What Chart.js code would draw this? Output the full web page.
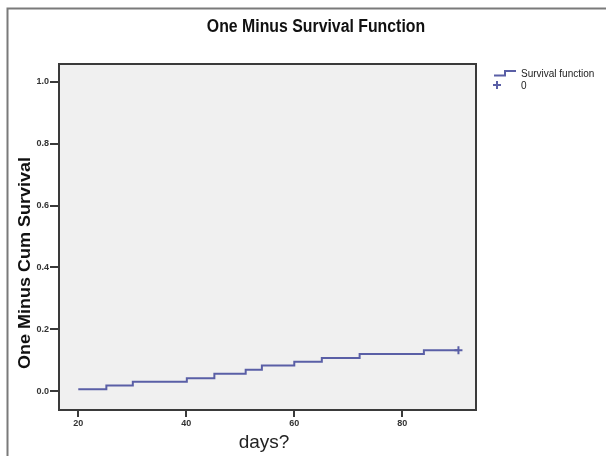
<!DOCTYPE html>
<html><head><meta charset="utf-8">
<script src="https://cdn.jsdelivr.net/npm/chart.js@4/dist/chart.umd.min.js"></script>
<style>html,body{margin:0;padding:0;background:#fff}#wrap{position:relative;width:606px;height:456px}</style>
</head><body><div id="wrap"><canvas id="c" width="606" height="456"></canvas></div>
<script>
const days = [20, 25.2, 30.1, 40.1, 45.2, 51, 54, 60, 65.1, 72.1, 84, 90.4];
const oneMinusSurvival = [0.006, 0.018, 0.030, 0.042, 0.056, 0.069, 0.083, 0.095, 0.107, 0.120, 0.132, 0.132];
const xTicks = [20, 40, 60, 80];
const yTicks = [0.0, 0.2, 0.4, 0.6, 0.8, 1.0];
const titleText = 'One Minus Survival Function';
const xTitle = 'days?';
const yTitle = 'One Minus Cum Survival';
const legendLabels = ['Survival function', '0'];

const LINE = '#5a5fa6';
const AXIS = '#3a3a3a';
const tickFont = {family: "'Liberation Sans',Arial", size: 9, weight: 'bold'};

const deco = {
  id: 'deco',
  beforeDraw(chart) {
    const {ctx, chartArea: a} = chart;
    ctx.save();
    ctx.fillStyle = '#f0f0f0';
    ctx.fillRect(a.left, a.top, a.right - a.left, a.bottom - a.top);
    ctx.strokeStyle = '#7a7a7a';
    ctx.lineWidth = 2;
    ctx.beginPath();
    ctx.moveTo(7.5, 456); ctx.lineTo(7.5, 8.5); ctx.lineTo(606, 8.5);
    ctx.stroke();
    ctx.restore();
  },
  afterDraw(chart) {
    const {ctx, chartArea: a} = chart;
    ctx.save();
    ctx.strokeStyle = AXIS;
    ctx.lineWidth = 2;
    ctx.strokeRect(a.left, a.top, a.right - a.left, a.bottom - a.top);
    ctx.textAlign = 'center'; ctx.textBaseline = 'middle';
    // title (condensed bold)
    ctx.save();
    ctx.translate(316, 27);
    ctx.scale(0.88, 1);
    ctx.fillStyle = '#111';
    ctx.font = "bold 18px 'Liberation Sans',Arial";
    ctx.fillText(titleText, 0, 0);
    ctx.restore();
    // x title
    ctx.font = "19px 'Liberation Sans',Arial";
    ctx.fillStyle = '#222';
    ctx.fillText(xTitle, 264, 443);
    // y title
    ctx.save();
    ctx.translate(25, 263);
    ctx.rotate(-Math.PI / 2);
    ctx.scale(1, 0.92);
    ctx.font = "bold 18px 'Liberation Sans',Arial";
    ctx.fillStyle = '#111';
    ctx.fillText(yTitle, 0, 0);
    ctx.restore();
    // legend
    ctx.strokeStyle = LINE; ctx.lineWidth = 2;
    ctx.beginPath();
    ctx.moveTo(494, 75.5); ctx.lineTo(505, 75.5); ctx.lineTo(505, 71); ctx.lineTo(516, 71);
    ctx.stroke();
    ctx.beginPath();
    ctx.moveTo(493, 85); ctx.lineTo(501, 85);
    ctx.moveTo(497, 81); ctx.lineTo(497, 89);
    ctx.stroke();
    ctx.fillStyle = '#222';
    ctx.font = "10px 'Liberation Sans',Arial";
    ctx.textAlign = 'left';
    ctx.fillText(legendLabels[0], 521, 74);
    ctx.fillText(legendLabels[1], 521, 86);
    ctx.restore();
  }
};

const last = days.length - 1;
new Chart(document.getElementById('c'), {
  type: 'line',
  data: {
    datasets: [{
      data: days.map((d, i) => ({x: d, y: oneMinusSurvival[i]})),
      borderColor: LINE,
      borderWidth: 2,
      stepped: 'before',
      pointStyle: 'cross',
      pointRadius: ctx => ctx.dataIndex === last ? 4 : 0,
      pointBorderColor: LINE,
      pointBorderWidth: 2,
      fill: false
    }]
  },
  options: {
    responsive: false,
    animation: false,
    events: [],
    layout: {padding: {left: 0, top: 64, right: 130, bottom: 0}},
    plugins: {legend: {display: false}, title: {display: false}, tooltip: {enabled: false}},
    scales: {
      x: {
        type: 'linear', min: 16.43, max: 93.65,
        afterBuildTicks: s => { s.ticks = xTicks.map(v => ({value: v})); },
        afterFit: s => { s.height = 46; },
        grid: {display: true, drawOnChartArea: false, drawTicks: true, tickLength: 7, color: AXIS, lineWidth: 2},
        border: {display: false},
        ticks: {font: tickFont, color: '#333', padding: 1, maxRotation: 0, callback: v => String(v)}
      },
      y: {
        type: 'linear', min: -0.061, max: 1.058,
        afterBuildTicks: s => { s.ticks = yTicks.map(v => ({value: v})); },
        afterFit: s => { s.width = 59; },
        grid: {display: true, drawOnChartArea: false, drawTicks: true, tickLength: 9, color: AXIS, lineWidth: 2},
        border: {display: false},
        ticks: {font: tickFont, color: '#333', padding: 1, callback: v => Number(v).toFixed(1)}
      }
    }
  },
  plugins: [deco]
});
</script></body></html>
